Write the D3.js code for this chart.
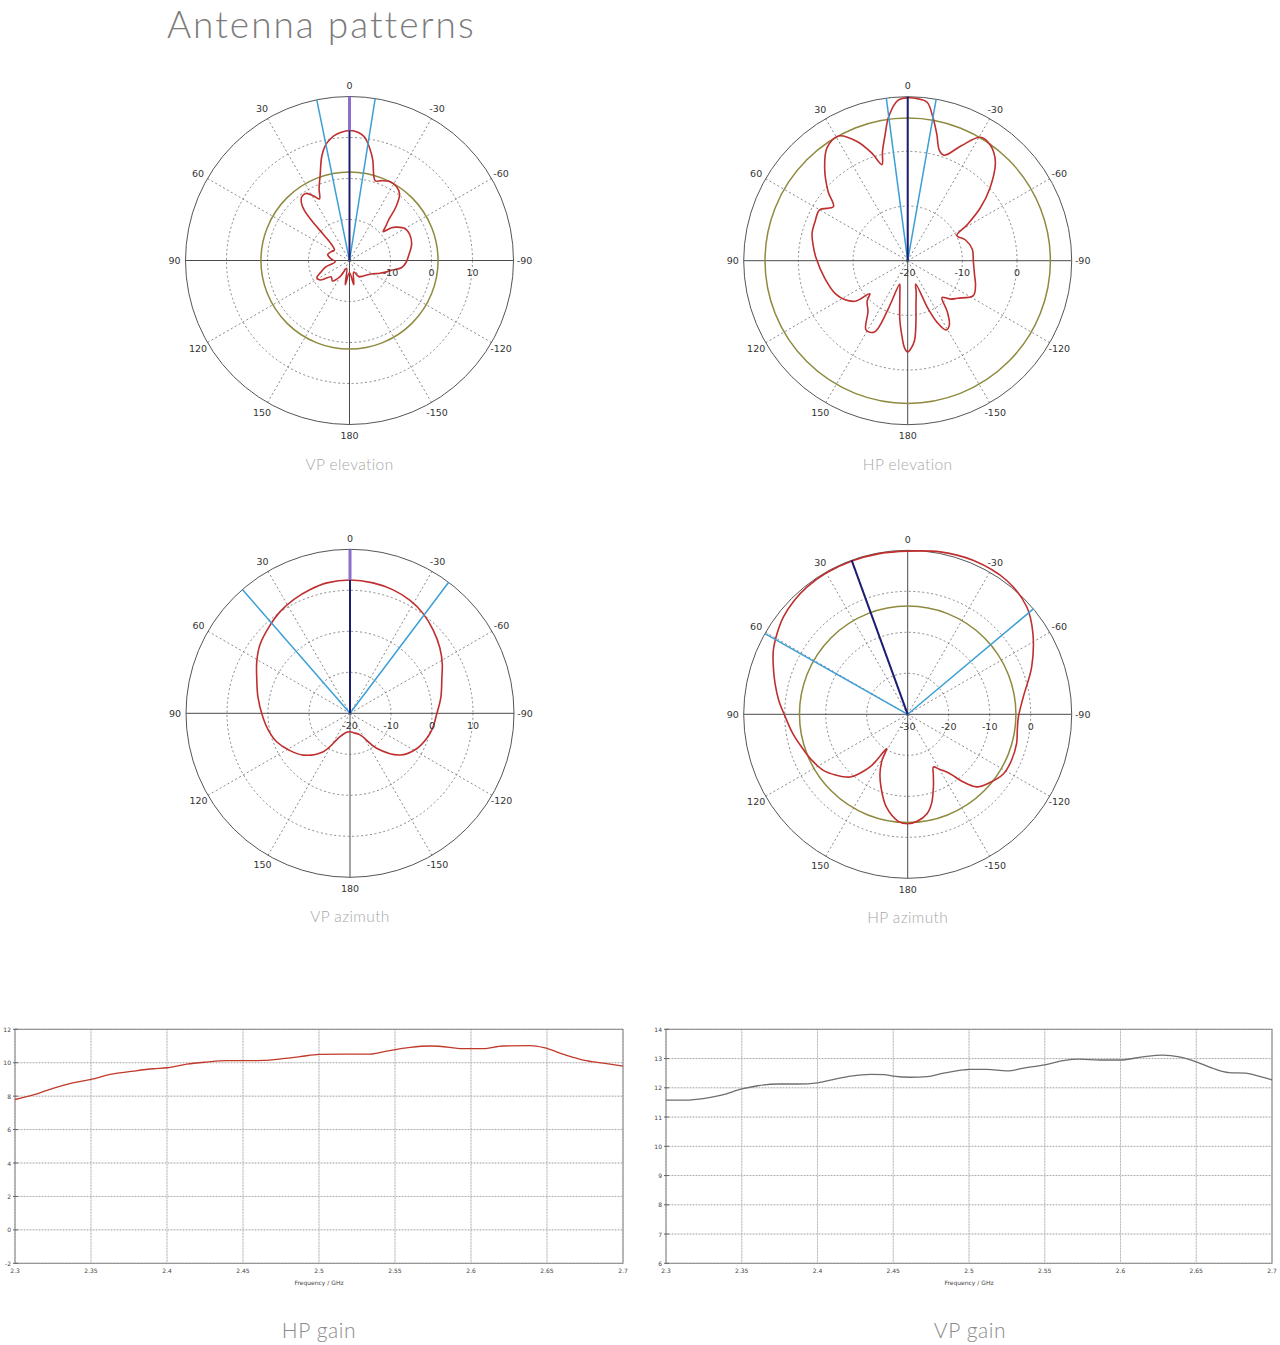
<!DOCTYPE html>
<html><head><meta charset="utf-8">
<script src="https://cdn.jsdelivr.net/npm/d3@7"></script>
<style>body{margin:0;background:#fff;} svg{display:block;}</style>
</head><body>
<svg id="c" width="1280" height="1345"></svg>
<script>
// ---------- DATA ----------
const angleTicks = [0, 30, 60, 90, 120, 150, 180, -150, -120, -90, -60, -30];

// VP elevation (angle deg, positive = left / counter-clockwise from top)
const vpElevAngles = [-180,-170,-160,-150,-140,-130,-120,-113,-107,-103,-98,-92,-85,-75,-66,-60,-55,-52,-49.5,-47,-44,-41,-37,-32,-27,-22,-18,-16,-13,-10,-7,-4,0,4,7,10,12,15,19,23,26,29,33,37,40,42,43.5,45,48,55,65,75,85,95,105,112,118,124,132,140,150,160,170];
const vpElevGain   = [-17,-14,-17,-15.5,-15,-14.5,-13.5,-12,-10.5,-9.5,-7.2,-6.2,-5.5,-4.3,-4.0,-4.4,-5.8,-7,-9.2,-8,-6.3,-2.8,0.3,1.4,1.6,1.0,0.4,1.5,5.2,8.0,10.3,11.3,11.7,11.3,10.7,9.6,8.6,6.2,2.0,-1.0,-3.3,-2.0,-0.5,-0.6,-1.8,-3.5,-6.5,-11,-14,-15.5,-15,-14.5,-15.5,-16.5,-14,-12.5,-11,-11.5,-14,-13.5,-15.5,-18,-14];

// HP elevation
const hpElevAngles = [-180,-175.5,-172.5,-169.5,-165,-161,-157,-154.5,-151,-147,-142,-137,-132,-127,-118,-110,-102,-90,-80,-70,-63,-59,-54,-48.5,-41.5,-35.5,-30.5,-25,-19,-16,-13,-10,-7,-3.5,0,3.5,7.5,10,13,15,18.5,23,29,35.5,42,49,54,60,67,74,81,88,102,115,122,128,131,135,142,149,155,158,161,165,169.5,172.5,175.5,178];
const hpElevGain   = [-3.3,-5.1,-8.5,-11.7,-14,-15.5,-10.5,-7.5,-5.5,-6.0,-8.3,-10.8,-9.5,-8.6,-6.4,-6.8,-7.5,-8.0,-8.0,-8.8,-9.9,-7.4,-3.6,0.1,4.2,6.0,6.2,3.2,0.4,1.0,3.7,6.6,9.2,9.7,9.8,9.4,6.6,3.6,0.5,-1.8,0.8,3.7,6.1,5.4,2.7,-0.7,-3.2,-1.4,-1.6,-1.8,-2.5,-3.2,-4.5,-5.5,-6.5,-8.0,-10.8,-9.5,-8.2,-5.2,-5.6,-10.5,-15.5,-14.5,-12,-9,-6.3,-4];

// VP azimuth
const vpAzAngles = [-180,-170,-155,-142.7,-129.8,-118,-108,-100,-91,-80,-69,-62,-54,-45,-36,-28,-19,-10,0,10,18,26,34.5,43,52.8,61,69.4,80,93.3,102,111.2,121,131.8,145.2,156.9,170];
const vpAzGain   = [-15.5,-15.2,-14.2,-9.3,-4.1,-1.6,-0.3,0.5,1.1,2.5,4.0,5.5,7.1,8.7,10.2,11.2,11.9,12.3,12.5,12.3,11.7,11.0,10.1,8.9,7.6,6.0,4.3,2.8,1.2,0.3,-0.8,-2.6,-4.7,-8.6,-13.8,-15.3];

// HP azimuth
const hpAzAngles = [-180,-175,-169,-165,-160.5,-157,-154,-150,-144.5,-141,-136.5,-130,-122,-114,-105,-98,-91.5,-81.5,-69,-57,-48,-36.5,-23,-11.3,0,10,20,30,38.4,45,52,58,64.5,70,77,84,91,99,107,115,123.6,130,137.4,141,144.4,146,148.5,151,155,160,167,175];
const hpAzGain   = [-3.3,-3.8,-5.3,-7.5,-11.2,-14,-15.7,-14.5,-12.2,-9,-5.6,-4,-2.5,-2.3,-2.5,-3.0,-3.0,-1.5,2.4,6.4,9.1,10.6,10.8,10.4,9.8,9.8,9.8,9.8,9.6,9.2,8.5,7.5,6.3,4.9,3.2,1.6,-0.1,-1.5,-2.9,-4,-5.3,-7,-9.2,-11.5,-14.2,-16.5,-20.2,-17,-14,-11,-6.8,-3.8];

// Gain vs frequency
const freqTicks = [2.3, 2.35, 2.4, 2.45, 2.5, 2.55, 2.6, 2.65, 2.7];
const hpGainFreq = [2.3,2.312,2.325,2.338,2.35,2.3625,2.378,2.391,2.4,2.413,2.426,2.439,2.45,2.463,2.476,2.4875,2.5,2.516,2.5336,2.5445,2.56,2.573,2.586,2.5928,2.608,2.621,2.639,2.648,2.661,2.674,2.687,2.7];
const hpGainVal  = [7.8,8.07,8.47,8.8,9.0,9.3,9.5,9.64,9.7,9.92,10.04,10.12,10.12,10.14,10.24,10.36,10.5,10.52,10.52,10.7,10.92,11.0,10.92,10.84,10.84,11.0,11.02,10.9,10.5,10.16,9.97,9.8];
const hpGainYTicks = [12, 10, 8, 6, 4, 2, 0, -2];

const vpGainFreq = [2.3,2.3125,2.3256,2.3366,2.35,2.3607,2.3738,2.387,2.4,2.411,2.422,2.435,2.4439,2.45,2.4614,2.4723,2.4833,2.4964,2.5,2.5118,2.5249,2.538,2.55,2.5622,2.5731,2.5862,2.6,2.6147,2.6278,2.6388,2.65,2.6607,2.6716,2.6825,2.6913,2.7];
const vpGainVal  = [11.58,11.58,11.64,11.75,11.96,12.07,12.13,12.13,12.17,12.29,12.4,12.46,12.45,12.4,12.36,12.38,12.5,12.61,12.63,12.63,12.58,12.69,12.78,12.93,12.98,12.95,12.95,13.06,13.12,13.06,12.89,12.67,12.52,12.5,12.4,12.27];
const vpGainYTicks = [14, 13, 12, 11, 10, 9, 8, 7, 6];

// ---------- CONFIG ----------
const svg = d3.select("#c");
const R = 164;
const COL = {grid:"#6a6a6a", axis:"#4a4a4a", red:"#bf2f2f", olive:"#8e8a3e", lblue:"#3b9fd6", navy:"#1c1c72", purple:"#8a70cc"};

const polars = [
  {title:"VP elevation", cx:349.5, cy:260.5, dom:[-20,20], rings:[-10,0,10], labels:[-10,0,10], ang:vpElevAngles, val:vpElevGain, olive:1.6, navy:0, lblue:[11.5,-9], purple:true},
  {title:"HP elevation", cx:907.7, cy:260.7, dom:[-20,10], rings:[-10,0], labels:[-20,-10,0], ang:hpElevAngles, val:hpElevGain, olive:6.1, navy:0, lblue:[7.5,-10], purple:false},
  {title:"VP azimuth", cx:350, cy:713.3, dom:[-20,20], rings:[-10,0,10], labels:[-20,-10,0,10], ang:vpAzAngles, val:vpAzGain, olive:null, navy:0, lblue:[41,-37], purple:true},
  {title:"HP azimuth", cx:907.7, cy:714.3, dom:[-30,10], rings:[-20,-10,0], labels:[-30,-20,-10,0], ang:hpAzAngles, val:hpAzGain, olive:-3.6, navy:20, lblue:[60.5,-50], purple:false}
];

const rad = a => -a * Math.PI / 180; // lineRadial angle (clockwise from top)

// title
svg.append("text").attr("x",167).attr("y",38).attr("font-family","Lato, 'Open Sans', sans-serif")
  .attr("font-weight",300).attr("font-size",37).attr("letter-spacing",2).attr("fill","#7b7b7b").text("Antenna patterns");

polars.forEach(p => {
  const g = svg.append("g").attr("transform",`translate(${p.cx},${p.cy})`);
  const r = d3.scaleLinear().domain(p.dom).range([0,R]);
  g.selectAll(".ring").data(p.rings).join("circle")
    .attr("r", d=>r(d)).attr("fill","none").attr("stroke",COL.grid)
    .attr("stroke-width",0.8).attr("stroke-dasharray","2,2.5");
  const spokes = angleTicks.filter(a => a % 90 !== 0);
  g.selectAll(".spoke").data(spokes).join("line")
    .attr("x1",0).attr("y1",0)
    .attr("x2", a => R*Math.sin(rad(a))).attr("y2", a => -R*Math.cos(rad(a)))
    .attr("stroke",COL.grid).attr("stroke-width",0.8).attr("stroke-dasharray","2,2.5");
  [0,90,180,-90].forEach(a => {
    g.append("line").attr("x1",0).attr("y1",0)
      .attr("x2",R*Math.sin(rad(a))).attr("y2",-R*Math.cos(rad(a)))
      .attr("stroke",COL.axis).attr("stroke-width",1);
  });
  g.append("circle").attr("r",R).attr("fill","none").attr("stroke","#555").attr("stroke-width",1);
  if (p.olive !== null) {
    g.append("circle").attr("r",r(p.olive)).attr("fill","none").attr("stroke",COL.olive).attr("stroke-width",1.5);
  }
  const pts = p.ang.map((a,i)=>({a, v:p.val[i]}));
  const line = d3.lineRadial().angle(d=>rad(d.a)).radius(d=>r(d.v)).curve(d3.curveCatmullRomClosed.alpha(0.5));
  g.append("path").attr("d",line(pts)).attr("fill","none").attr("stroke",COL.red).attr("stroke-width",1.6);
  p.lblue.forEach(a => {
    g.append("line").attr("x1",0).attr("y1",0)
      .attr("x2",R*Math.sin(rad(a))).attr("y2",-R*Math.cos(rad(a)))
      .attr("stroke",COL.lblue).attr("stroke-width",1.5);
  });
  g.append("line").attr("x1",0).attr("y1",0)
    .attr("x2",R*Math.sin(rad(p.navy))).attr("y2",-R*Math.cos(rad(p.navy)))
    .attr("stroke",COL.navy).attr("stroke-width",2);
  if (p.purple) {
    const peak = d3.max(p.val);
    g.append("line").attr("x1",0).attr("y1",-r(peak)).attr("x2",0).attr("y2",-R)
      .attr("stroke",COL.purple).attr("stroke-width",3);
  }
  g.selectAll(".al").data(angleTicks).join("text")
    .attr("x", a => (R+11)*Math.sin(rad(a))).attr("y", a => -(R+11)*Math.cos(rad(a)))
    .attr("text-anchor","middle").attr("dominant-baseline","central")
    .attr("font-family","'DejaVu Sans', sans-serif").attr("font-size",9.5).attr("fill","#333")
    .text(a => a);
  g.selectAll(".rl").data(p.labels).join("text")
    .attr("x", d => r(d)).attr("y", 12)
    .attr("text-anchor","middle").attr("dominant-baseline","central")
    .attr("font-family","'DejaVu Sans', sans-serif").attr("font-size",9.5).attr("fill","#333")
    .text(d => d);
  svg.append("text").attr("x",p.cx).attr("y",p.cy+209).attr("text-anchor","middle")
    .attr("font-family","Lato, 'Open Sans', sans-serif").attr("font-weight",300)
    .attr("font-size",15.5).attr("letter-spacing",0.4).attr("fill","#a8a8a8").text(p.title);
});

// ---------- LINE CHARTS ----------
const lineCharts = [
  {title:"HP gain", x0:15, x1:623, yd:[-2,12], yt:hpGainYTicks, f:hpGainFreq, v:hpGainVal, color:"#c0392b", tcx:319},
  {title:"VP gain", x0:666, x1:1272, yd:[6,14], yt:vpGainYTicks, f:vpGainFreq, v:vpGainVal, color:"#6e6e6e", tcx:970}
];
const yTop = 1029.3, yBot = 1263.3;
lineCharts.forEach(c => {
  const x = d3.scaleLinear().domain([2.3,2.7]).range([c.x0,c.x1]);
  const y = d3.scaleLinear().domain(c.yd).range([yBot,yTop]);
  const g = svg.append("g");
  g.selectAll(".gx").data(freqTicks).join("line")
    .attr("x1",d=>x(d)).attr("x2",d=>x(d)).attr("y1",yTop).attr("y2",yBot)
    .attr("stroke","#dadada").attr("stroke-width",1);
  g.selectAll(".gy").data(c.yt).join("line")
    .attr("y1",d=>y(d)).attr("y2",d=>y(d)).attr("x1",c.x0).attr("x2",c.x1)
    .attr("stroke","#dadada").attr("stroke-width",1);
  g.selectAll(".dx").data(freqTicks).join("line")
    .attr("x1",d=>x(d)).attr("x2",d=>x(d)).attr("y1",yTop).attr("y2",yBot)
    .attr("stroke","#a0a0a0").attr("stroke-width",0.8).attr("stroke-dasharray","1,2");
  g.selectAll(".dy").data(c.yt).join("line")
    .attr("y1",d=>y(d)).attr("y2",d=>y(d)).attr("x1",c.x0).attr("x2",c.x1)
    .attr("stroke","#a0a0a0").attr("stroke-width",0.8).attr("stroke-dasharray","1,2");
  g.append("rect").attr("x",c.x0).attr("y",yTop).attr("width",c.x1-c.x0).attr("height",yBot-yTop)
    .attr("fill","none").attr("stroke","#888").attr("stroke-width",1);
  g.selectAll(".ty").data(c.yt).join("line")
    .attr("x1",c.x0-2).attr("x2",c.x0+3).attr("y1",d=>y(d)).attr("y2",d=>y(d)).attr("stroke","#666");
  g.selectAll(".tyl").data(c.yt).join("text")
    .attr("x",c.x0-4).attr("y",d=>y(d)).attr("text-anchor","end").attr("dominant-baseline","central")
    .attr("font-family","'DejaVu Sans', sans-serif").attr("font-size",6).attr("fill","#444").text(d=>d);
  g.selectAll(".txl").data(freqTicks).join("text")
    .attr("x",d=>x(d)).attr("y",yBot+10).attr("text-anchor","middle")
    .attr("font-family","'DejaVu Sans', sans-serif").attr("font-size",6).attr("fill","#444").text(d=>d);
  g.append("text").attr("x",(c.x0+c.x1)/2).attr("y",yBot+22).attr("text-anchor","middle")
    .attr("font-family","'DejaVu Sans', sans-serif").attr("font-size",6).attr("fill","#444").text("Frequency / GHz");
  const pts = c.f.map((f,i)=>[f,c.v[i]]);
  g.append("path").attr("d", d3.line().x(d=>x(d[0])).y(d=>y(d[1])).curve(d3.curveMonotoneX)(pts))
    .attr("fill","none").attr("stroke",c.color).attr("stroke-width",1.3);
  svg.append("text").attr("x",c.tcx).attr("y",1338).attr("text-anchor","middle")
    .attr("font-family","Lato, 'Open Sans', sans-serif").attr("font-weight",300)
    .attr("font-size",21).attr("letter-spacing",0.6).attr("fill","#8a8a8a").text(c.title);
});
</script>
</body></html>
